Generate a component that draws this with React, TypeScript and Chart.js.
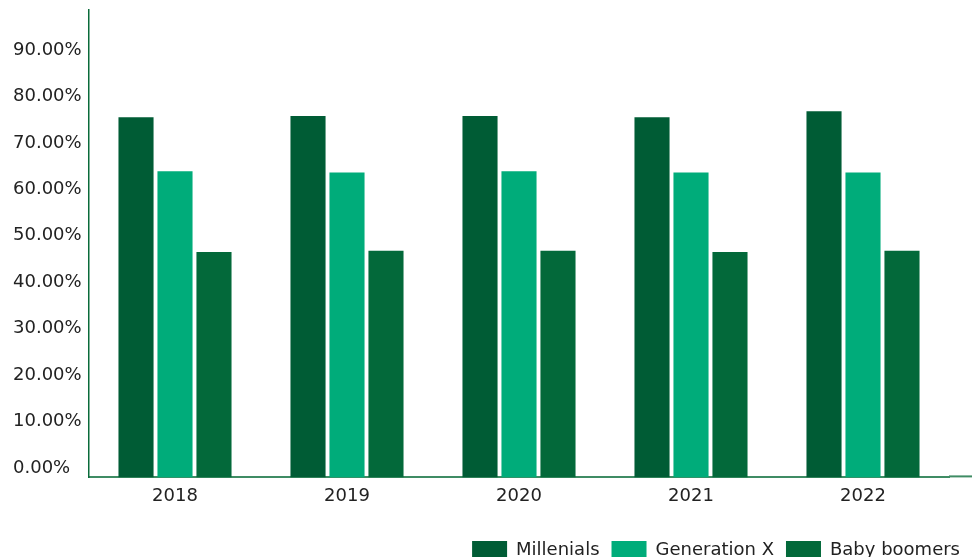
import React, { useEffect, useRef } from "react";
import { Chart, registerables } from "chart.js";

Chart.register(...registerables);

const years = ["2018", "2019", "2020", "2021", "2022"];
const millenials = [75.5, 75.8, 75.8, 75.5, 76.8];
const generationX = [63.9, 63.6, 63.9, 63.6, 63.6];
const babyBoomers = [46.5, 46.8, 46.8, 46.5, 46.8];
const yTicks = [0, 10, 20, 30, 40, 50, 60, 70, 80, 90];
const Y_MIN = -2;
const Y_MAX = 98.6;

const FONT = "'DejaVu Sans', sans-serif";

const extendXAxis = {
  id: "extendXAxis",
  afterDraw(chart: any) {
    const { ctx, chartArea } = chart;
    ctx.save();
    ctx.strokeStyle = "#3f8c64";
    ctx.lineWidth = 2;
    ctx.beginPath();
    ctx.moveTo(chartArea.right, chartArea.bottom - 1);
    ctx.lineTo(chart.width, chartArea.bottom - 1);
    ctx.stroke();
    ctx.restore();
  },
};

export default function App() {
  const ref = useRef<HTMLCanvasElement>(null);
  useEffect(() => {
    if (!ref.current) return;
    const chart = new Chart(ref.current, {
      type: "bar",
      data: {
        labels: years,
        datasets: [
          { label: "Millenials", data: millenials, backgroundColor: "#005c35", base: Y_MIN } as any,
          { label: "Generation X", data: generationX, backgroundColor: "#00ac7a", base: Y_MIN } as any,
          { label: "Baby boomers", data: babyBoomers, backgroundColor: "#03693a", base: Y_MIN } as any,
        ],
      },
      options: {
        responsive: false,
        animation: false,
        layout: { padding: { left: 13, right: 0, top: 10, bottom: -12 } },
        datasets: { bar: { categoryPercentage: 0.68, barPercentage: 0.9 } },
        plugins: {
          tooltip: { enabled: false },
          legend: {
            position: "bottom",
            align: "end",
            labels: {
              boxWidth: 35,
              boxHeight: 18,
              padding: 12,
              color: "#222",
              font: { family: FONT, size: 18 },
            },
          },
        },
        scales: {
          x: {
            grid: { display: false, drawTicks: false },
            border: { display: true, color: "#3f8c64", width: 2 },
            ticks: { color: "#222", font: { family: FONT, size: 18 }, padding: 8 },
            afterFit: (s: any) => {
              s.height += 14;
            },
          },
          y: {
            min: Y_MIN,
            max: Y_MAX,
            grid: { display: false, drawTicks: false },
            border: { display: true, color: "#0a6b3a", width: 1.5 },
            afterBuildTicks: (s: any) => {
              s.ticks = yTicks.map((v) => ({ value: v }));
            },
            afterFit: (s: any) => {
              s.width = 76;
              s.paddingTop = 0;
              s.paddingBottom = 0;
            },
            ticks: {
              crossAlign: "far",
              color: "#222",
              font: { family: FONT, size: 18 },
              callback: (v: any) => Number(v).toFixed(2) + "%",
            },
          },
          y2: {
            position: "right",
            display: true,
            grid: { display: false, drawTicks: false },
            border: { display: false },
            ticks: { display: false },
            afterFit: (s: any) => {
              s.width = 23;
              s.paddingTop = 0;
              s.paddingBottom = 0;
            },
          },
        },
      },
      plugins: [extendXAxis],
    });
    return () => chart.destroy();
  }, []);
  return (
    <div style={{ position: "absolute", left: 0, top: 0, width: 972, height: 557, background: "#fff" }}>
      <canvas ref={ref} width={972} height={557} />
    </div>
  );
}
